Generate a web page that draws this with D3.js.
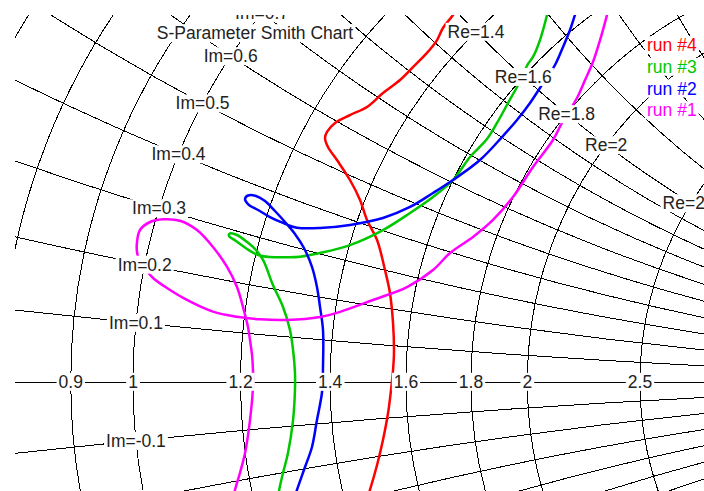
<!DOCTYPE html>
<html>
<head>
<meta charset="utf-8">
<script src="https://cdn.jsdelivr.net/npm/d3@7"></script>
<style>
  html, body { margin: 0; padding: 0; background: #fff; }
  svg { display: block; }
  text { font-family: "Liberation Sans", Arial, sans-serif; font-size: 17.5px; }
</style>
</head>
<body>
<svg id="chart" width="704" height="491"></svg>
<script>
// ---------- data (reflection coefficient S11, real / imaginary parts) ----------
const title = "S-Parameter Smith Chart";

const resistanceCircles = [0.7, 0.8, 0.9, 1, 1.2, 1.4, 1.6, 1.8, 2, 2.5, 3, 4, 5, 10];
const reactanceArcs = [0.1, 0.2, 0.3, 0.4, 0.5, 0.6, 0.7, 0.8, 0.9, 1, 1.2, 1.4, 1.6, 1.8, 2, 3, 4, 5, 10,
                       -0.1, -0.2, -0.3, -0.4, -0.5, -0.6, -0.7, -0.8, -0.9, -1, -1.2, -1.4, -1.6, -1.8, -2, -3, -4, -5, -10];

const seriesNames = ["run #4", "run #3", "run #2", "run #1"];
const seriesColors = ["#ff0000", "#00c800", "#0000ff", "#ff00ff"];

const run4Re = [0.278, 0.2705, 0.262, 0.257, 0.2485, 0.2367, 0.2257, 0.2113, 0.1978, 0.1834, 0.1708, 0.164, 0.1623, 0.1648, 0.1724, 0.1834, 0.1919, 0.1978, 0.2063, 0.213, 0.2172, 0.2198, 0.2206, 0.2198, 0.2181, 0.2156, 0.2113, 0.2063, 0.2003, 0.1961];
const run4Im = [0.3227, 0.310, 0.299, 0.2888, 0.2779, 0.266, 0.255, 0.244, 0.2322, 0.2254, 0.2187, 0.2111, 0.206, 0.1984, 0.1874, 0.1705, 0.1536, 0.1367, 0.1198, 0.0944, 0.075, 0.0496, 0.0243, 0.0099, -0.007, -0.0265, -0.0493, -0.0704, -0.0915, -0.1042];

const run3Re = [0.3531, 0.350, 0.344, 0.3381, 0.3339, 0.3246, 0.317, 0.3077, 0.2992, 0.2849, 0.2705, 0.2536, 0.2342, 0.2113, 0.1834, 0.1581, 0.1412, 0.1302, 0.1158, 0.1057, 0.0964, 0.0871, 0.0811, 0.082, 0.0879, 0.0964, 0.1031, 0.1099, 0.1183, 0.1268, 0.1327, 0.1353, 0.1369, 0.1369, 0.1353, 0.131, 0.1268, 0.1234, 0.1217];
const run3Im = [0.3227, 0.310, 0.2888, 0.2745, 0.2686, 0.2491, 0.2356, 0.2187, 0.2051, 0.19, 0.1705, 0.1561, 0.1426, 0.1282, 0.1155, 0.1088, 0.1057, 0.1052, 0.1054, 0.1071, 0.1122, 0.1189, 0.1232, 0.1253, 0.124, 0.1181, 0.1122, 0.1029, 0.0817, 0.0631, 0.0437, 0.0268, 0.0082, -0.007, -0.0324, -0.0603, -0.0772, -0.0924, -0.1042];

const run2Re = [0.3779, 0.3736, 0.3694, 0.3635, 0.3567, 0.344, 0.3356, 0.3246, 0.3119, 0.2933, 0.2705, 0.2536, 0.2342, 0.2113, 0.1834, 0.1581, 0.1386, 0.1268, 0.1158, 0.1057, 0.0972, 0.0947, 0.0972, 0.104, 0.1116, 0.12, 0.1285, 0.1369, 0.1445, 0.1513, 0.1555, 0.1581, 0.1606, 0.1606, 0.1598, 0.1555, 0.1513, 0.1454, 0.1386, 0.1344];
const run2Im = [0.3227, 0.310, 0.2973, 0.283, 0.2677, 0.2483, 0.2356, 0.2212, 0.2068, 0.1874, 0.1705, 0.1595, 0.1477, 0.1384, 0.1325, 0.1299, 0.1302, 0.1342, 0.1392, 0.1451, 0.1502, 0.1544, 0.1574, 0.157, 0.1527, 0.1443, 0.135, 0.1249, 0.113, 0.097, 0.08, 0.0631, 0.0437, 0.0124, -0.0087, -0.0324, -0.0552, -0.0721, -0.0915, -0.1042];

const run1Re = [0.404, 0.4007, 0.3948, 0.3888, 0.3821, 0.3753, 0.3626, 0.355, 0.3381, 0.3212, 0.3043, 0.2874, 0.268, 0.2536, 0.2316, 0.2029, 0.175, 0.1581, 0.1302, 0.1074, 0.0879, 0.0676, 0.0456, 0.0287, 0.0169, 0.011, 0.0059, 0.0034, 0.0034, 0.0059, 0.0144, 0.0254, 0.0397, 0.0541, 0.0676, 0.0795, 0.0879, 0.093, 0.0972, 0.0989, 0.1006, 0.1014, 0.1014, 0.0989, 0.0947, 0.0904, 0.0862, 0.0837];
const run1Im = [0.3227, 0.310, 0.2888, 0.2702, 0.255, 0.2398, 0.2187, 0.2043, 0.1815, 0.1561, 0.1367, 0.1223, 0.1088, 0.0944, 0.08, 0.0691, 0.059, 0.0547, 0.0522, 0.0527, 0.0549, 0.0592, 0.0691, 0.0792, 0.0877, 0.0944, 0.1012, 0.1096, 0.1181, 0.1282, 0.135, 0.1373, 0.1361, 0.1282, 0.1139, 0.097, 0.08, 0.0631, 0.0462, 0.0352, 0.0226, 0.0099, -0.0045, -0.0324, -0.0603, -0.0772, -0.0916, -0.1042];

const seriesRe = [run4Re, run3Re, run2Re, run1Re];
const seriesIm = [run4Im, run3Im, run2Im, run1Im];

// ---------- layout ----------
const W = 704, H = 491;
const plotLeft = 15, plotTop = 15;
const cx0 = 133, cy0 = 381.7, unit = 1183; // zoomed view of the Smith chart
const sx = d3.scaleLinear().domain([-1, 1]).range([cx0 - unit, cx0 + unit]);
const sy = d3.scaleLinear().domain([-1, 1]).range([cy0 + unit, cy0 - unit]);
const sr = v => sx(v) - sx(0);

// gamma = (z-1)/(z+1)
function gamma(r, x) {
  const nr = r - 1, ni = x, dr = r + 1, di = x;
  const d = dr * dr + di * di;
  return [(nr * dr + ni * di) / d, (ni * dr - nr * di) / d];
}
const fmt = v => String(+v.toFixed(2));

const svg = d3.select("#chart");
const defs = svg.append("defs");
defs.append("clipPath").attr("id", "plotClip")
  .append("rect").attr("x", plotLeft).attr("y", plotTop).attr("width", W - plotLeft).attr("height", H - plotTop);
defs.append("clipPath").attr("id", "unitClip")
  .append("circle").attr("cx", sx(0)).attr("cy", sy(0)).attr("r", sr(1));

const plot = svg.append("g").attr("clip-path", "url(#plotClip)");
const grid = plot.append("g").attr("clip-path", "url(#unitClip)")
  .attr("fill", "none").attr("stroke", "#000").attr("stroke-width", 1)
  .attr("shape-rendering", "crispEdges");

grid.selectAll("circle.res").data(resistanceCircles).join("circle")
  .attr("class", "res")
  .attr("cx", r => sx(r / (1 + r))).attr("cy", sy(0))
  .attr("r", r => sr(1 / (1 + r)));
grid.selectAll("circle.reac").data(reactanceArcs).join("circle")
  .attr("class", "reac")
  .attr("cx", sx(1)).attr("cy", x => sy(1 / x))
  .attr("r", x => sr(1 / Math.abs(x)));
grid.append("line").attr("x1", sx(-1)).attr("x2", sx(1)).attr("y1", Math.round(sy(0)) + 0.5).attr("y2", Math.round(sy(0)) + 0.5);
grid.append("circle").attr("cx", sx(0)).attr("cy", sy(0)).attr("r", sr(1));

// data curves
const line = d3.line().x(d => sx(d[0])).y(d => sy(d[1])).curve(d3.curveCatmullRom.alpha(0.5));
const curves = plot.append("g");
seriesNames.forEach((name, i) => {
  const pts = seriesRe[i].map((re, k) => [re, seriesIm[i][k]]);
  curves.append("path").attr("d", line(pts))
    .attr("fill", "none").attr("stroke", seriesColors[i])
    .attr("stroke-width", 2.5).attr("stroke-linejoin", "round").attr("stroke-linecap", "round");
});

// labels with white background (only those that fall in the visible plot area)
const labels = plot.append("g");
function boxedText(parent, x, y, str, color, anchor, keepAlways) {
  const g = parent.append("g");
  const t = g.append("text").attr("x", x).attr("y", y).attr("dy", "0.35em")
    .attr("text-anchor", anchor || "middle").attr("fill", color || "#222").text(str);
  const b = t.node().getBBox();
  if (!keepAlways && (b.x + b.width < plotLeft || b.x > W || b.y + b.height * 0.75 < plotTop || b.y > H)) {
    g.remove();
    return null;
  }
  g.insert("rect", "text").attr("x", b.x - 2).attr("y", b.y + 1).attr("width", b.width + 4)
    .attr("height", b.height - 2).attr("fill", "#fff");
  return g;
}
resistanceCircles.forEach(r => {
  const [gr] = gamma(r, 0);
  boxedText(labels, sx(gr), sy(0), fmt(r));
  const g1 = gamma(r, 1);
  boxedText(labels, sx(g1[0]), sy(g1[1]), "Re=" + fmt(r));
});
reactanceArcs.forEach(x => {
  const g = gamma(1, x);
  boxedText(labels, sx(g[0]), sy(g[1]), "Im=" + fmt(x));
});

// title
boxedText(plot, 255, 33, title, "#222", "middle", true);

// legend
const legend = svg.append("g");
seriesNames.forEach((name, i) => {
  boxedText(legend, 647, 45 + i * 21.7, name, seriesColors[i], "start", true);
});
</script>
</body>
</html>
